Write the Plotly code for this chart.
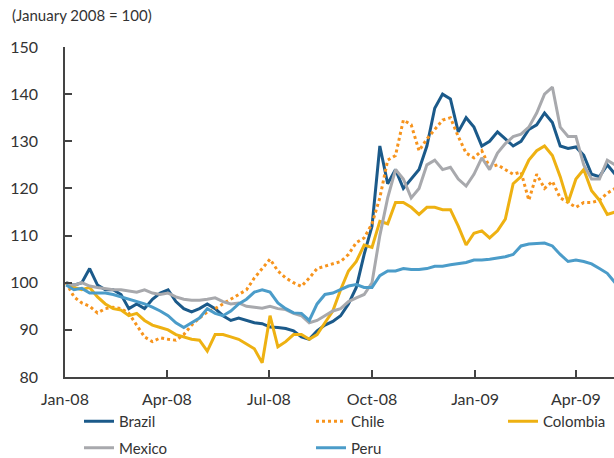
import pandas as pd
import plotly.graph_objects as go

# Weekly observation dates (Jan 2, 2008 onward)
dates = pd.date_range("2008-01-02", periods=71, freq="7D")

brazil = [100, 99.5, 100, 103, 99.5, 98.5, 98.5, 97.5, 94.5, 95.5,
          94.5, 96.5, 97.8, 98.5, 96, 94.5, 93.8, 94.5, 95.5, 94.5,
          93, 92, 92.5, 92, 91.5, 91.3, 90.6, 90.5, 90.3, 89.8,
          88.5, 88, 89.8, 91, 91.8, 93, 95.5, 99, 106, 112,
          129, 121, 124, 120, 122, 124, 129, 137, 140, 139,
          132, 135, 133, 129, 130, 132, 130.5, 129, 130, 132.5,
          133.5, 136, 134, 129, 128.5, 128.8, 127, 123, 122.5, 125, 123]

chile = [100, 97, 95.7, 95, 93.6, 94.5, 94.8, 94.5, 93.5, 91,
         88.5, 87.5, 88.3, 88, 87.8, 89, 91, 92.5, 93.8, 94.5,
         95.5, 96.5, 97.5, 98.5, 101, 103, 105, 102.5, 101, 100,
         99.2, 101, 103, 103.5, 104, 104.5, 106, 108.5, 109.5, 112.5,
         118, 126, 127, 134.5, 133.5, 128, 130.5, 132.5, 134.5, 135,
         131, 127.5, 126.5, 128, 124.5, 125, 124, 123, 123.5, 117.5,
         123, 120, 121.5, 118, 117, 116, 117, 117, 117.5, 119, 120]

colombia = [100, 99, 98.5, 99, 97, 95.5, 94.5, 94.2, 93, 93.5,
            92, 91, 90.5, 90, 89, 88.5, 88, 87.8, 85.5, 89,
            89, 88.5, 88, 87, 86, 83, 93, 86.4, 87.5, 89,
            89, 88, 89, 91.5, 94, 98.5, 102.5, 104.5, 108, 107.5,
            113, 112.5, 117, 117, 116, 114.5, 116, 116, 115.5, 115.5,
            112, 108, 110.5, 111, 109.5, 111, 113.5, 121, 122.5, 126,
            128, 129, 127, 122.5, 117, 122, 124, 119.5, 117.5, 114.5, 115]

mexico = [100, 99.5, 100, 99.3, 99, 98.8, 98.5, 98.5, 98.3, 98,
          98.5, 97.8, 97.5, 97.8, 97, 96.5, 96.3, 96.3, 96.5, 96.8,
          96, 95.5, 95.7, 95, 94.8, 94.6, 95, 94.5, 94.3, 93.5,
          93, 91.5, 92, 93, 94, 94.5, 96, 96.8, 97.5, 100,
          110, 118, 124, 122, 118, 120, 125, 126, 124, 124.5,
          122, 120.5, 123, 126.5, 124, 127.5, 129.5, 131, 131.5, 133,
          136, 140, 141.5, 133, 131, 131, 125, 122, 122, 126, 125]

peru = [99.5, 98.5, 98.8, 97.8, 97.8, 97.8, 97.5, 97, 96.5, 96,
        95.5, 94.8, 94, 93, 91.5, 90.5, 91.5, 92.5, 94.5, 93.5,
        93, 94, 95.5, 96.5, 98, 98.5, 98, 95.7, 94.5, 93.6,
        93.5, 92, 95.5, 97.5, 97.8, 98.5, 99.3, 99.6, 99, 99,
        101.5, 102.5, 102.5, 103, 102.8, 102.8, 103, 103.5, 103.5, 103.8,
        104, 104.3, 104.8, 104.8, 105, 105.3, 105.5, 106, 107.8, 108.2,
        108.3, 108.4, 107.8, 106, 104.5, 104.8, 104.5, 104, 103, 102, 100]

tick_dates = ["2008-01-01", "2008-04-01", "2008-07-01", "2008-10-01",
              "2009-01-01", "2009-04-01"]
tick_labels = ["Jan-08", "Apr-08", "Jul-08", "Oct-08", "Jan-09", "Apr-09"]
y_ticks = [80, 90, 100, 110, 120, 130, 140, 150]

FONT = "Lato"
TXT = "#333333"

series = [
    ("Brazil", brazil, "#1b5a8a", "solid", "legend"),
    ("Chile", chile, "#f7941d", "dot", "legend2"),
    ("Colombia", colombia, "#eeb112", "solid", "legend3"),
    ("Mexico", mexico, "#a8a9ad", "solid", "legend"),
    ("Peru", peru, "#4b9cc9", "solid", "legend2"),
]

fig = go.Figure()
for name, vals, color, dash, leg in series:
    fig.add_trace(go.Scatter(
        x=dates, y=vals, name=name, mode="lines",
        line=dict(color=color, width=3, dash=dash),
        legend=leg, legendgroup=name,
    ))

PW, PH = 549, 330
leg_common = dict(
    orientation="v", yanchor="top", y=-28 / PH, xanchor="left",
    font=dict(family=FONT, size=15, color=TXT),
    bgcolor="rgba(0,0,0,0)", tracegroupgap=4, borderwidth=0,
)

fig.update_layout(
    width=614, height=458,
    margin=dict(l=65, r=0, t=47, b=81, autoexpand=False),
    paper_bgcolor="white", plot_bgcolor="white",
    font=dict(family=FONT, size=16, color=TXT),
    showlegend=True,
    legend=dict(x=14 / PW, **leg_common),
    legend2=dict(x=246 / PW, **leg_common),
    legend3=dict(x=438 / PW, **leg_common),
    xaxis=dict(
        type="date",
        range=["2008-01-01", "2009-05-05"],
        tickvals=tick_dates, ticktext=tick_labels,
        ticks="inside", ticklen=7, tickwidth=1.5, tickcolor="#444",
        showline=True, linecolor="#444", linewidth=1.5,
        showgrid=False, zeroline=False,
        tickfont=dict(family=FONT, size=16, color=TXT),
        ticklabelstandoff=7,
    ),
    yaxis=dict(
        range=[80, 150], tickvals=y_ticks,
        ticks="inside", ticklen=7, tickwidth=1.5, tickcolor="#444",
        showline=True, linecolor="#444", linewidth=1.5,
        showgrid=False, zeroline=False,
        tickfont=dict(family=FONT, size=16, color=TXT),
        ticklabelstandoff=22,
    ),
    annotations=[dict(
        text="(January 2008 = 100)", xref="paper", yref="paper",
        x=-55 / PW, y=1 + 32 / PH, xanchor="left", yanchor="middle",
        showarrow=False, font=dict(family=FONT, size=15, color=TXT),
    )],
)

fig.write_html("out.html",
               config={"displayModeBar": False},
               post_script="document.body.style.margin='0px';")
